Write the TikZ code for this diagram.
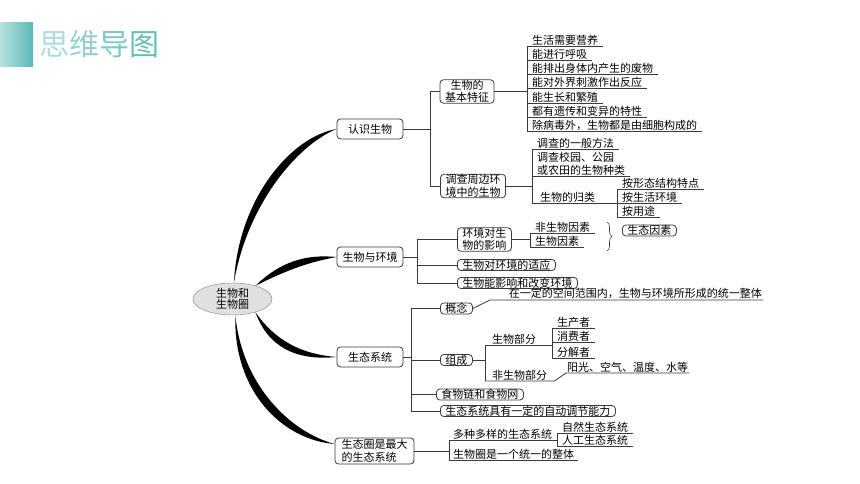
\documentclass[tikz,border=0pt]{standalone}
\usepackage{fontspec}
\setmainfont{Noto Sans CJK SC}
\usetikzlibrary{shapes.geometric, decorations.pathreplacing}
\definecolor{linegray}{HTML}{3A3A3A}
\definecolor{tealA}{HTML}{B6E1E1}
\definecolor{tealB}{HTML}{5BB8B6}
\definecolor{tA}{HTML}{AEDBDB}
\definecolor{tB}{HTML}{94D1D0}
\definecolor{tC}{HTML}{80C9C8}
\definecolor{tD}{HTML}{69BEBD}

\begin{document}
\begin{tikzpicture}[x=1pt, y=-1pt,
    every node/.style={font=\fontsize{11}{12.5}\selectfont, text=black},
    box/.style={draw=linegray, line width=0.8pt, rounded corners=3.5pt, fill=white,
        inner xsep=5pt, inner ysep=0.4pt, align=center},
    topic/.style={box, minimum width=66pt, minimum height=20pt},
    leaf/.style={anchor=south west, inner xsep=5pt, inner ysep=0.8pt, align=left},
    link/.style={draw=linegray, line width=0.8pt},
    branch/.style={fill=black}]

    \useasboundingbox (0,0) rectangle (860,484);

    % heading
    \shade[left color=tealA, right color=tealB] (0,23) rectangle (33,67);
    \node[anchor=west, inner sep=0pt, font=\fontsize{30}{30}\selectfont] (title) at (39,44)
        {\textcolor{tA}{思}\textcolor{tB}{维}\textcolor{tC}{导}\textcolor{tD}{图}};

    % centre and main branches
    \node[ellipse, draw=black!50, fill=black!12, minimum width=79pt, minimum height=32pt,
        inner sep=0pt, align=center, font=\fontsize{11}{11.5}\selectfont] (root) at (232.5,299) {生物和\\生物圈};

    \node[topic] (c1) at (370,129) {认识生物};
    \node[topic] (c2) at (370,257) {生物与环境};
    \node[topic] (c3) at (370,357) {生态系统};
    \node[box, align=left, minimum width=79pt, minimum height=26pt] (c4) at (374.5,451) {生态圈是最大\\的生态系统};

    \fill[branch] (root.85) .. controls (238,200) and (290,137) .. (c1.west)
        .. controls (297,145) and (247,205) .. (root.85) -- cycle;
    \fill[branch] (root.30) .. controls (280,262) and (305,254) .. (c2.west)
        .. controls (309,262) and (287,270) .. (root.30) -- cycle;
    \fill[branch] (root.-30) .. controls (275,340) and (300,354) .. (c3.west)
        .. controls (296,361) and (268,347) .. (root.-30) -- cycle;
    \fill[branch] (root.-80) .. controls (242,385) and (290,432) .. (c4.170)
        .. controls (283,440) and (233,392) .. (root.-80) -- cycle;

    % 认识生物
    \draw[link] (c1.east) -- ++(27,0) coordinate (j1);
    \node[box] (b1) at (467,91.5) {生物的\\基本特征};
    \node[box] (b2) at (473,186) {调查周边环\\境中的生物};
    \draw[link] (b1.west) -| (j1) |- (b2.west);

    \node[leaf] (f1) at (527,46) {生活需要营养};
    \node[leaf] (f2) at (527,60.3) {能进行呼吸};
    \node[leaf] (f3) at (527,74.6) {能排出身体内产生的废物};
    \node[leaf] (f4) at (527,88.9) {能对外界刺激作出反应};
    \node[leaf] (f5) at (527,103.2) {能生长和繁殖};
    \node[leaf] (f6) at (527,117.5) {都有遗传和变异的特性};
    \node[leaf] (f7) at (527,131.8) {除病毒外，生物都是由细胞构成的};
    \draw[link] (f1.south west) -- (f1.south east);
    \draw[link] (f2.south west) -- (f2.south east);
    \draw[link] (f3.south west) -- (f3.south east);
    \draw[link] (f4.south west) -- (f4.south east);
    \draw[link] (f5.south west) -- (f5.south east);
    \draw[link] (f6.south west) -- (f6.south east);
    \draw[link] (f7.south west) -- (f7.south east);
    \draw[link] (f1.south west) -- (f7.south west);
    \draw[link] (b1.east) -- (b1.east -| f1.south west);

    \node[leaf] (g1) at (532,149) {调查的一般方法};
    \node[leaf] (g2) at (532,176) {调查校园、公园\\或农田的生物种类};
    \node[leaf, inner xsep=8pt] (g3) at (532,203.5) {生物的归类};
    \node[leaf] (h1) at (617,189) {按形态结构特点};
    \node[leaf] (h2) at (617,203.5) {按生活环境};
    \node[leaf] (h3) at (617,217.5) {按用途};
    \draw[link] (g1.south west) -- (g1.south east);
    \draw[link] (g2.south west) -- (g2.south east);
    \draw[link] (g3.south west) -- (h2.south west);
    \draw[link] (g1.south west) -- (g3.south west);
    \draw[link] (h1.south west) -- (h1.south east);
    \draw[link] (h2.south west) -- (h2.south east);
    \draw[link] (h3.south west) -- (h3.south east);
    \draw[link] (h1.south west) -- (h3.south west);
    \draw[link] (b2.east) -- (b2.east -| g1.south west);

    % 生物与环境
    \draw[link] (c2.east) -- ++(14,0) coordinate (j2);
    \node[box, anchor=west] (d1) at (457,239.5) {环境对生\\物的影响};
    \node[box, anchor=west] (d2) at (457,265) {生物对环境的适应};
    \node[box, anchor=west] (d3) at (457,283) {生物能影响和改变环境};
    \draw[link] (d1.west) -| (j2) |- (d3.west);
    \draw[link] (d2.west) -- (d2.west -| j2);

    \node[leaf] (e1) at (530,233) {非生物因素};
    \node[leaf] (e2) at (530,247) {生物因素};
    \draw[link] (e1.south west) -- (e1.south east);
    \draw[link] (e2.south west) -- (e2.south east);
    \draw[link] (e1.south west) -- (e2.south west);
    \draw[link] (d1.east) -- (d1.east -| e1.south west);

    \coordinate (k0) at (607,222);
    \coordinate (k1) at (607,251);
    \draw[link, line width=0.6pt, decorate, decoration={brace, amplitude=5pt}] (k0) -- (k1);
    \node[box, anchor=west] (k) at (622,230.5) {生态因素};

    % 生态系统
    \draw[link] (c3.east) -- ++(8,0) coordinate (j3);
    \node[box, anchor=west] (m1) at (440,308.5) {概念};
    \node[box, anchor=west] (m2) at (440,360) {组成};
    \node[box, anchor=west] (m3) at (436,394.5) {食物链和食物网};
    \node[box, anchor=west] (m4) at (440,411) {生态系统具有一定的自动调节能力};
    \draw[link] (m1.west) -| (j3) |- (m4.west);
    \draw[link] (m2.west) -- (m2.west -| j3);
    \draw[link] (m3.west) -- (m3.west -| j3);

    \coordinate (n0) at (490,300);
    \node[leaf, anchor=south east, inner xsep=1pt] (n1) at (763,300) {在一定的空间范围内，生物与环境所形成的统一整体};
    \draw[link] (m1.east) -- (n0) -- (n1.south east);

    \node[leaf, inner xsep=7pt] (p1) at (485,345) {生物部分};
    \node[leaf, inner xsep=7pt] (p2) at (485,381) {非生物部分};
    \node[leaf, inner xsep=1pt] (p3) at (566,373) {阳光、空气、温度、水等};
    \draw[link] (m2.east) -- (m2.east -| p1.south west);
    \draw[link] (p1.south west) -- (p2.south west);
    \node[leaf] (q1) at (552,328) {生产者};
    \node[leaf] (q2) at (552,342.5) {消费者};
    \node[leaf] (q3) at (552,358) {分解者};
    \draw[link] (p1.south west) -- (p1.south west -| q1.south west);
    \draw[link] (q1.south west) -- (q1.south east);
    \draw[link] (q2.south west) -- (q2.south east);
    \draw[link] (q3.south west) -- (q3.south east);
    \draw[link] (q1.south west) -- (q3.south west);
    \draw[link] (p2.south west) -- (p2.south east) -- (p3.south west) -- (p3.south east);

    % 生态圈
    \draw[link] (c4.east) -- ++(35,0) coordinate (j5);
    \node[leaf, inner xsep=4pt] (r1) at (449,440) {多种多样的生态系统};
    \node[leaf, inner xsep=4pt] (r2) at (449,460) {生物圈是一个统一的整体};
    \node[leaf] (s1) at (557,433) {自然生态系统};
    \node[leaf] (s2) at (557,446) {人工生态系统};
    \draw[link] (r1.south west) -- (r1.south west -| s1.south west);
    \draw[link] (r2.south west) -- (r2.south east);
    \draw[link] (r1.south west) -- (r2.south west);
    \draw[link] (s1.south west) -- (s1.south east);
    \draw[link] (s2.south west) -- (s2.south east);
    \draw[link] (s1.south west) -- (s2.south west);

\end{tikzpicture}
\end{document}
